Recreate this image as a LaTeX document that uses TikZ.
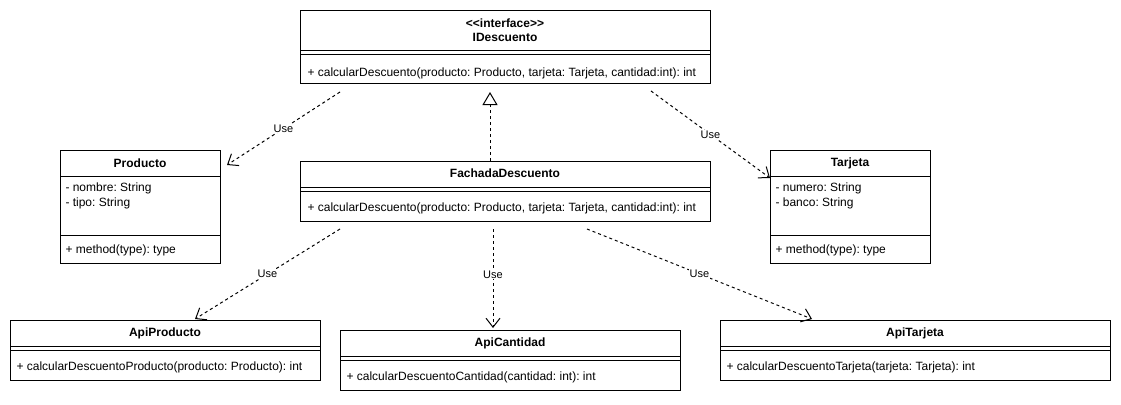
\documentclass[tikz,border=0pt]{standalone}
\usepackage{fontspec}
\setmainfont{Liberation Sans}
\usetikzlibrary{arrows.meta}
\frenchspacing

\begin{document}
\begin{tikzpicture}[x=1pt,y=-1pt,line width=1pt,
  font=\fontsize{12}{14}\selectfont,
  classbox/.style={draw,anchor=north west,inner sep=0pt},
  classname/.style={font=\fontsize{12}{14}\selectfont\bfseries,align=center,inner sep=0pt},
  member/.style={anchor=west,inner sep=0pt},
  use/.style={dash pattern=on 3pt off 3pt,-{Straight Barb[length=9pt,width=14pt]}},
  uselabel/.style={fill=white,inner sep=1pt,font=\fontsize{11}{13}\selectfont},
  realize/.style={dash pattern=on 3pt off 3pt,-{Triangle[open,length=13pt,width=15pt,fill=white]}}]
\useasboundingbox (0,0) rectangle (1121,404);
% interface
\node [classbox, minimum width=410pt, minimum height=73pt] (idesc) at (300,10) {};
\node [classname] (idesc-name) at (505,30) {{<}\kern0pt{<}interface{>}\kern0pt{>}\\IDescuento};
\draw ([yshift=-41pt]idesc.north west) -- ([yshift=-41pt]idesc.north east);
\draw ([yshift=-45pt]idesc.north west) -- ([yshift=-45pt]idesc.north east);
\node [member] (idesc-op) at (307,73) {+ calcularDescuento(producto: Producto, tarjeta: Tarjeta, cantidad:int): int};
% producto
\node [classbox, minimum width=160pt, minimum height=113pt] (producto) at (60,150) {};
\node [classname] (producto-name) at (140,163) {Producto};
\draw ([yshift=-26pt]producto.north west) -- ([yshift=-26pt]producto.north east);
\draw ([yshift=-85pt]producto.north west) -- ([yshift=-85pt]producto.north east);
\node [member] (producto-a1) at (65,188) {- nombre: String};
\node [member] (producto-a2) at (65,203) {- tipo: String};
\node [member] (producto-op) at (65,250) {+ method(type): type};
% fachada
\node [classbox, minimum width=410pt, minimum height=60pt] (fachada) at (300,161) {};
\node [classname] (fachada-name) at (505,173) {FachadaDescuento};
\draw ([yshift=-26pt]fachada.north west) -- ([yshift=-26pt]fachada.north east);
\draw ([yshift=-30pt]fachada.north west) -- ([yshift=-30pt]fachada.north east);
\node [member] (fachada-op) at (307,208) {+ calcularDescuento(producto: Producto, tarjeta: Tarjeta, cantidad:int): int};
% tarjeta
\node [classbox, minimum width=160pt, minimum height=113pt] (tarjeta) at (770,150) {};
\node [classname] (tarjeta-name) at (850,163) {Tarjeta};
\draw ([yshift=-26pt]tarjeta.north west) -- ([yshift=-26pt]tarjeta.north east);
\draw ([yshift=-85pt]tarjeta.north west) -- ([yshift=-85pt]tarjeta.north east);
\node [member] (tarjeta-a1) at (775,188) {- numero: String};
\node [member] (tarjeta-a2) at (775,203) {- banco: String};
\node [member] (tarjeta-op) at (775,250) {+ method(type): type};
% api classes
\node [classbox, minimum width=310pt, minimum height=60pt] (apiproducto) at (10,320) {};
\node [classname] (apiproducto-name) at (165,333) {ApiProducto};
\draw ([yshift=-26pt]apiproducto.north west) -- ([yshift=-26pt]apiproducto.north east);
\draw ([yshift=-30pt]apiproducto.north west) -- ([yshift=-30pt]apiproducto.north east);
\node [member] (apiproducto-op) at (16,367) {+ calcularDescuentoProducto(producto: Producto): int};
\node [classbox, minimum width=340pt, minimum height=60pt] (apicantidad) at (340,330) {};
\node [classname] (apicantidad-name) at (510,343) {ApiCantidad};
\draw ([yshift=-26pt]apicantidad.north west) -- ([yshift=-26pt]apicantidad.north east);
\draw ([yshift=-30pt]apicantidad.north west) -- ([yshift=-30pt]apicantidad.north east);
\node [member] (apicantidad-op) at (346,377) {+ calcularDescuentoCantidad(cantidad: int): int};
\node [classbox, minimum width=390pt, minimum height=60pt] (apitarjeta) at (720,320) {};
\node [classname] (apitarjeta-name) at (915,333) {ApiTarjeta};
\draw ([yshift=-26pt]apitarjeta.north west) -- ([yshift=-26pt]apitarjeta.north east);
\draw ([yshift=-30pt]apitarjeta.north west) -- ([yshift=-30pt]apitarjeta.north east);
\node [member] (apitarjeta-op) at (726,367) {+ calcularDescuentoTarjeta(tarjeta: Tarjeta): int};
% dependencies
\draw [use] ([xshift=40pt,yshift=-8pt]idesc.south west) -- node [uselabel] (use-producto) {Use} ([xshift=6pt,yshift=-15pt]producto.north east);
\draw [use] ([xshift=-60pt,yshift=-7pt]idesc.south east) -- node [uselabel] (use-tarjeta) {Use} ([yshift=-28pt]tarjeta.north west);
\draw [use] ([xshift=40pt,yshift=-7pt]fachada.south west) -- node [uselabel] (use-apiproducto) {Use} ([xshift=185pt,yshift=1pt]apiproducto.north west);
\draw [use] ([xshift=193pt,yshift=-7pt]fachada.south west) -- node [uselabel, pos=0.46] (use-apicantidad) {Use} ([xshift=153pt,yshift=2pt]apicantidad.north west);
\draw [use] ([xshift=287pt,yshift=-7pt]fachada.south west) -- node [uselabel] (use-apitarjeta) {Use} ([xshift=92pt,yshift=1pt]apitarjeta.north west);
% realization
\draw [realize] ([xshift=190pt]fachada.north west) -- ([xshift=190pt,yshift=-8pt]idesc.south west);
\end{tikzpicture}
\end{document}
